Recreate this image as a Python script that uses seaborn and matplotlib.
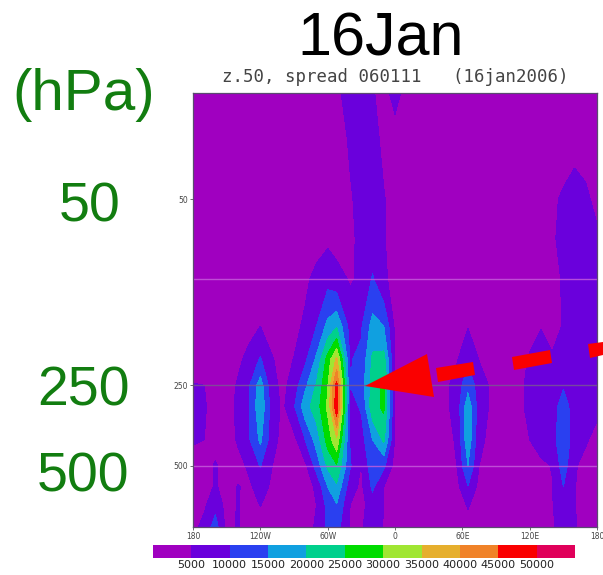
import numpy as np
import matplotlib
matplotlib.use('Agg')
import matplotlib.pyplot as plt
from matplotlib.colors import ListedColormap
from matplotlib.patches import Polygon
from matplotlib.ticker import NullLocator
import seaborn as sns

# longitudes and pressure levels of the values
lons = [-180, -170, -160, -150, -140, -130, -120, -110, -100, -90, -80, -70, -60, -52, -40, -30, -20,
        -10, 0, 10, 25, 40, 55, 65, 75, 90, 110, 120, 130, 140, 150, 160, 170, 180]
levels_hpa = [20, 30, 50, 70, 100, 150, 200, 250, 300, 400, 500, 600, 700, 850]

# spread in thousands, one row per level
p20 = [2, 2, 2, 2, 2, 2, 2, 2, 2, 2, 2, 2, 2, 4.5, 6, 6.5, 5.5, 3, 7, 3, 2, 2, 2, 2, 2, 2, 2, 2, 2, 2, 2, 2, 2, 2]
p30 = [2, 2, 2, 2, 2, 2, 2, 2, 2, 2, 2, 2, 2, 3, 5.5, 7, 6.5, 4, 2, 2, 2, 2, 2, 2, 2, 2, 2, 2, 2, 2, 2.5, 3.6, 3, 2]
p50 = [2, 2, 2, 2, 2, 2, 2, 2, 2, 2, 2, 2, 2, 2, 4.5, 6.5, 7, 5.3, 3, 2, 2, 2, 2, 2, 2, 2, 2, 2, 2, 4, 5.8, 7, 6, 3.5]
p70 = [2, 2, 2, 2, 2, 2, 2, 2, 2, 2, 2, 3, 4, 3, 4.2, 6, 7.5, 5.3, 3, 2, 2, 2, 2, 2, 2, 2, 2, 2, 2, 4.5, 6, 7.5, 7.5, 6]
p100 = [2, 2, 2, 2, 2, 2, 2, 2, 2, 2, 4, 6.5, 8.5, 7, 4.5, 5.8, 10.5, 6, 3, 2, 2, 2, 2, 2, 2, 2, 2, 2, 3, 4, 5.3, 7, 7.5, 6.5]
p150 = [2, 2, 2, 2, 2, 3.5, 5, 3, 2, 3.5, 6, 10, 16.5, 19.5, 8, 9.5, 17, 15, 4, 2, 2, 2, 3.5, 4.8, 3, 2, 2, 3.5, 4.8, 3.5, 5.3, 7, 7.5, 6.5]
p200 = [3, 2.5, 2, 2, 4, 6.5, 10.5, 5.5, 3, 5.2, 9, 16, 27, 36, 9.7, 11, 21, 22, 4.5, 2.5, 2, 2, 4.5, 9, 4.8, 2, 3, 5.5, 7, 5.5, 6.5, 7, 7, 6.5]
p250 = [5.2, 5, 3, 3, 5.5, 9.5, 17.5, 7, 3.5, 7.5, 14, 20.5, 29.5, 47, 10, 12.5, 22, 26, 4.5, 3, 2, 2.5, 7, 13.5, 7.5, 3, 4, 6, 7, 7, 9.5, 7.5, 7, 6.5]
p300 = [6.5, 5.5, 3, 3, 6, 9.5, 19, 8, 4, 9.5, 18, 22.5, 31, 49, 8.5, 10.5, 23, 26, 5, 3, 2, 2.5, 7, 18, 7.5, 3, 4, 6, 7.5, 7.5, 12.5, 7.5, 7, 6]
p400 = [5.5, 5, 3, 3, 5.5, 9.5, 16, 7.5, 3, 3.5, 10, 17, 27, 34, 9.5, 8, 15, 21, 4.5, 2.5, 2, 2.5, 5.5, 18.5, 6, 3, 3, 5, 7, 8, 13.5, 7.5, 5.5, 3.5]
p500 = [3, 3, 5.5, 3, 3.5, 5.8, 10.3, 5.2, 2.5, 2.5, 4, 12, 21, 24.5, 10.5, 4.8, 13.5, 11, 3, 2, 2, 2.5, 5, 15, 5, 2.5, 2.5, 3, 4, 5.2, 12.5, 5.5, 3.5, 3]
p600 = [2, 3, 5.5, 3, 5.2, 4.2, 7, 4.3, 2.5, 2.5, 2.5, 6, 15, 19, 7, 4, 11, 5, 2.5, 2, 2, 2, 3.5, 9.8, 3.5, 2, 2, 2, 3, 4.8, 10, 5.2, 3, 2.5]
p700 = [2, 4, 8.5, 3, 5.3, 3, 5.2, 3, 2.5, 2.5, 2.5, 5, 11.5, 14.8, 5, 3.5, 7.5, 5, 2, 2, 2, 2, 2.5, 5.5, 2.5, 2, 2, 2, 2, 4.8, 7, 5.2, 2.5, 2]
p850 = [3, 7, 12, 3.5, 5.5, 2.5, 2, 2, 2, 2, 2, 6, 11, 12, 4.5, 4.5, 7.5, 4.7, 2, 2, 2, 2, 2, 3, 2, 2, 2, 2, 2, 4.5, 6.5, 5.5, 3, 2]

# colour bar and labels
bar_colors = ['#a000c0', '#6a00dc', '#2a40f0', '#10a0e0', '#00d08c', '#00dc00',
              '#a0e632', '#e6af2d', '#f08228', '#fa0000', '#e0005a']
bar_labels = ['5000', '10000', '15000', '20000', '25000', '30000', '35000', '40000', '45000', '50000']
contour_levels = [0, 5, 10, 15, 20, 25, 30, 35, 40, 45, 50, 60]

lon_labels = ['180', '120W', '60W', '0', '60E', '120E', '180']
lon_ticks = [-180, -120, -60, 0, 60, 120, 180]
level_ticks = [50, 250, 500]
grid_levels = [100, 250, 500]

sns.set_style('white')
plt.rcParams['font.family'] = ['Liberation Sans', 'DejaVu Sans']

W, H = 603, 575
fig = plt.figure(figsize=(W / 100, H / 100), dpi=100)


def box(x0, y0, x1, y1):
    # pixel box of the reference to figure fractions
    return [x0 / W, 1 - y1 / H, (x1 - x0) / W, (y1 - y0) / H]


def px(points):
    return [(x / W, 1 - y / H) for x, y in points]


# main panel
ax = fig.add_axes(box(193, 93, 597, 527))
field = np.array([p20, p30, p50, p70, p100, p150, p200, p250, p300, p400, p500, p600, p700, p850])
ax.contourf(lons, levels_hpa, field, levels=contour_levels, colors=bar_colors)
ax.set_yscale('log')
ax.set_xlim(-180, 180)
ax.set_ylim(850, 20)
for lev in grid_levels:
    ax.axhline(lev, color='#7a5a90' if lev == 250 else '#c860dc', lw=1.0, alpha=0.8)

ax.set_xticks(lon_ticks)
ax.set_xticklabels(lon_labels, fontsize=5.5, color='#444444', family='DejaVu Sans')
ax.set_yticks(level_ticks)
ax.set_yticklabels([str(v) for v in level_ticks], fontsize=5.5, color='#444444', family='DejaVu Sans')
ax.yaxis.set_minor_locator(NullLocator())
ax.tick_params(axis='both', length=2.5, width=0.6, color='#555555', pad=1, left=True, bottom=True)
for spine in ax.spines.values():
    spine.set_color('#5a4a70')
    spine.set_linewidth(0.9)

# colour bar drawn as a one row heatmap
cax = fig.add_axes(box(153, 545, 575, 558))
sns.heatmap([list(range(len(bar_colors)))], ax=cax, cmap=ListedColormap(bar_colors), cbar=False,
            xticklabels=False, yticklabels=False, square=False)
for i, lab in enumerate(bar_labels):
    cax.text(i + 1, 1.15, lab, ha='center', va='top', fontsize=8, color='#222222',
             family='DejaVu Sans', clip_on=False)

# texts around the panel
fig.text(381 / W, 1 - 40 / H, '16Jan', fontsize=44, ha='center', va='center', color='black')
fig.text(395 / W, 1 - 77 / H, 'z.50, spread 060111   (16jan2006)', fontsize=12.5, ha='center', va='center',
         color='#444444', family='DejaVu Sans Mono')
green = '#127d10'
fig.text(84 / W, 1 - 95 / H, '(hPa)', fontsize=42, ha='center', va='center', color=green)
fig.text(90 / W, 1 - 208 / H, '50', fontsize=40, ha='center', va='center', color=green)
fig.text(84 / W, 1 - 391 / H, '250', fontsize=40, ha='center', va='center', color=green)
fig.text(83 / W, 1 - 478 / H, '500', fontsize=40, ha='center', va='center', color=green)

# red dashed arrow on top of the panel
red_shapes = [
    [(365, 386), (427, 354), (434, 397)],
    [(436, 368), (473, 362), (475, 375), (438, 382)],
    [(512, 357), (550, 350), (552, 363), (514, 370)],
    [(588, 344), (603, 342), (603, 355), (590, 358)],
]
for shape in red_shapes:
    fig.add_artist(Polygon(px(shape), closed=True, transform=fig.transFigure, facecolor='#fa0000', edgecolor='none'))

fig.savefig('out.png', dpi=100)
plt.close(fig)
